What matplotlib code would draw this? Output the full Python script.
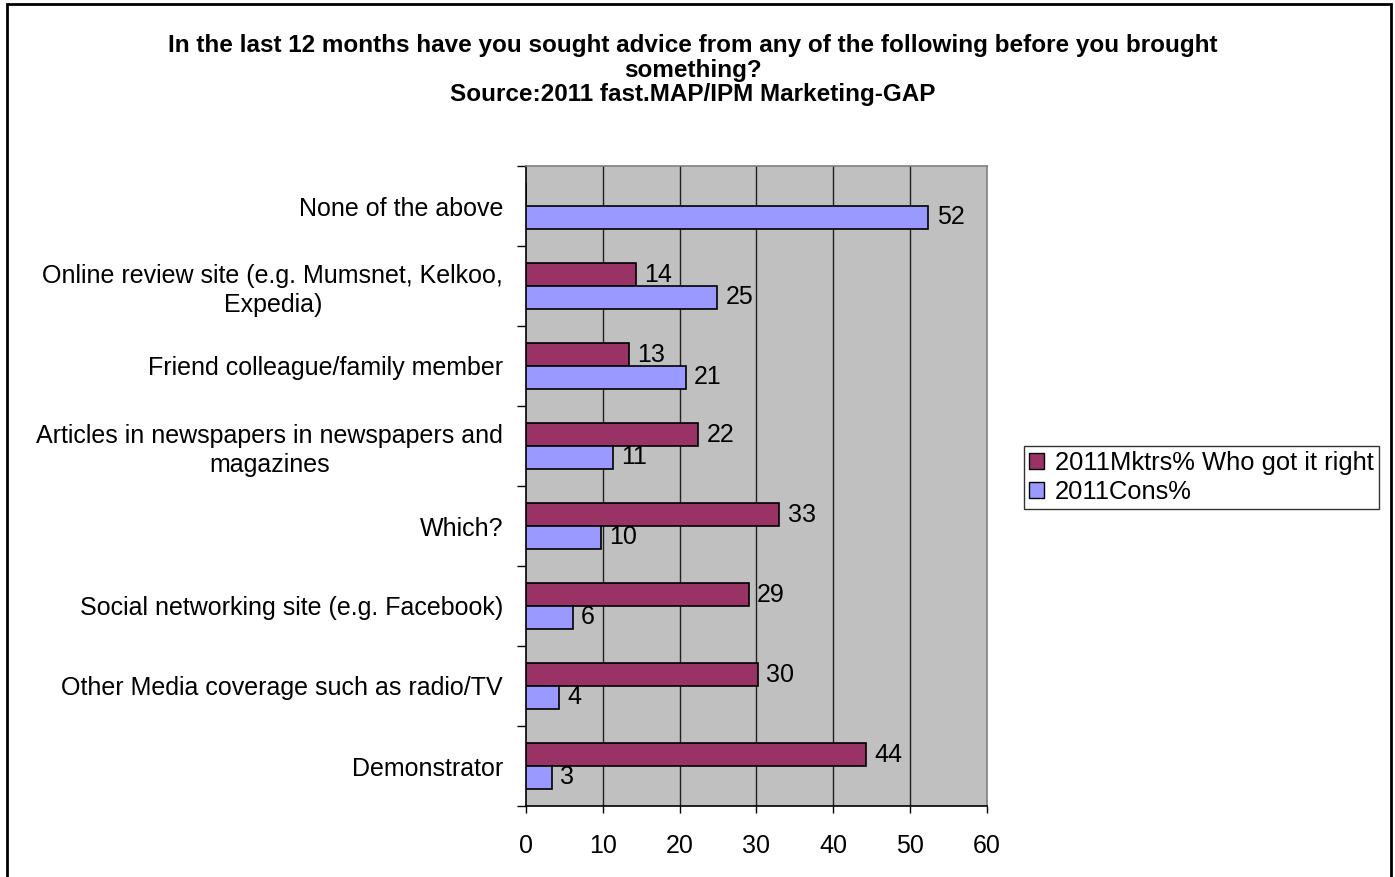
import matplotlib
matplotlib.use("Agg")
import matplotlib.pyplot as plt
from matplotlib.patches import Rectangle, Patch
import numpy as np

categories = [
    "Demonstrator",
    "Other Media coverage such as radio/TV",
    "Social networking site (e.g. Facebook)",
    "Which?",
    "Articles in newspapers in newspapers and\nmagazines",
    "Friend colleague/family member",
    "Online review site (e.g. Mumsnet, Kelkoo,\nExpedia)",
    "None of the above",
]
mktrs = [44.3, 30.2, 29.0, 33.0, 22.4, 13.4, 14.3, 0.0]
cons = [3.4, 4.3, 6.1, 9.8, 11.3, 20.8, 24.9, 52.4]
series_names = ["2011Mktrs% Who got it right", "2011Cons%"]
xticks = [0, 10, 20, 30, 40, 50, 60]
title = ("In the last 12 months have you sought advice from any of the following before you brought\n"
         "something?\nSource:2011 fast.MAP/IPM Marketing-GAP")

plt.rcParams['font.family'] = ['Liberation Sans', 'DejaVu Sans']

W, H = 1395, 877
fig = plt.figure(figsize=(W / 100, H / 100), dpi=100)
fig.patch.set_facecolor('white')

left, right, top, bottom = 526, 986.7, 166, 806
ax = fig.add_axes([left / W, 1 - bottom / H, (right - left) / W, (bottom - top) / H])
ax.set_facecolor('#C0C0C0')

maroon = '#993366'
lav = '#9999FF'
n = len(categories)
y = np.arange(n)
h = 0.2875

b1 = ax.barh(y + h / 2, mktrs, height=h, color=maroon, edgecolor='black', linewidth=1.2, zorder=3)
b2 = ax.barh(y - h / 2, cons, height=h, color=lav, edgecolor='black', linewidth=1.2, zorder=3)

fs = 18
ax.bar_label(b1, labels=[f"{v:.0f}" if v > 0 else "" for v in mktrs], padding=6, fontsize=fs)
ax.bar_label(b2, labels=[f"{v:.0f}" for v in cons], padding=6, fontsize=fs)

ax.set_xlim(0, 60)
ax.set_ylim(-0.5, n - 0.5)
ax.set_xticks(xticks)
ax.set_xticklabels([str(t) for t in xticks], fontsize=fs)
ax.tick_params(axis='x', direction='out', length=5, width=1, pad=15, color='black')

ax.set_yticks(np.arange(-0.5, n, 1.0))
ax.set_yticklabels([])
ax.tick_params(axis='y', which='major', direction='out', length=6.5, width=1, color='black')
ax.set_yticks(y, minor=True)
ax.set_yticklabels(categories, minor=True, fontsize=fs)
ax.tick_params(axis='y', which='minor', length=0, pad=16.5)
for lab in ax.get_yticklabels(minor=True):
    lab.set_multialignment('center')
    lab.set_linespacing(1.25)

for t in xticks[1:-1]:
    ax.axvline(t, color='#202020', linewidth=1, zorder=1)

ax.spines['top'].set_color('#808080')
ax.spines['right'].set_color('#808080')
ax.spines['left'].set_color('black')
ax.spines['bottom'].set_color('black')
for s in ax.spines.values():
    s.set_linewidth(1.2)

fig.text(693 / W, 1 - 70 / H, title, ha='center', va='center', fontsize=17.5,
         fontweight='bold', linespacing=1.06)

handles = [Patch(facecolor=maroon, edgecolor='black', linewidth=1),
           Patch(facecolor=lav, edgecolor='black', linewidth=1)]
leg = fig.legend(handles, series_names, loc='center left',
                 bbox_to_anchor=(1024 / W, 1 - 477.5 / H), fontsize=18.4,
                 frameon=True, fancybox=False, edgecolor='black',
                 handlelength=0.6, handleheight=0.6, handletextpad=0.4,
                 borderpad=0.2, labelspacing=0.2, borderaxespad=0)
leg.get_frame().set_linewidth(1)

fig.patches.append(Rectangle((7 / W, -0.05), (1391 - 7) / W, 1.05 - 4 / H,
                             transform=fig.transFigure, fill=False,
                             edgecolor='black', linewidth=2))

fig.savefig('out.png', dpi=100)
